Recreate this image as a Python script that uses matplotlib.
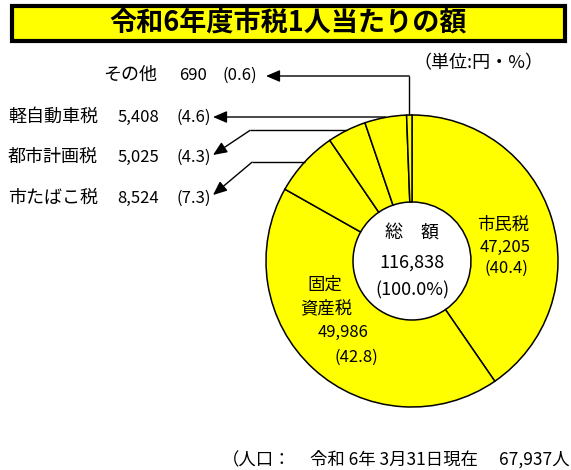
import matplotlib
matplotlib.use('Agg')
import matplotlib.pyplot as plt
import matplotlib.patches as mpatches
import numpy as np

plt.rcParams['font.family'] = ['Noto Sans CJK JP', 'DejaVu Sans']

# 市税の内訳（上から時計回り）
names = ['市民税', '固定資産税', '市たばこ税', '都市計画税', '軽自動車税', 'その他']
amounts = [47205, 49986, 8524, 5025, 5408, 690]
shares = [40.4, 42.8, 7.3, 4.3, 4.6, 0.6]
total = 116838
total_share = 100.0
population = 67937
title = '令和6年度市税1人当たりの額'
unit = '（単位:円・%）'
base_date = '令和 6年 3月31日現在'

fig = plt.figure(figsize=(5.71, 4.70), dpi=100)
ax = fig.add_axes([0, 0, 1, 1])

# donut (pixel-like coordinates, y down)
cx, cy, R, r = 412, 261, 146, 59
wedges, _ = ax.pie(amounts, center=(cx, cy), radius=R, startangle=-90, counterclock=True, frame=True,
                   colors=['#FFFF00'] * len(amounts),
                   wedgeprops=dict(width=R - r, edgecolor='black', linewidth=1.1))
ax.set_xlim(0, 571)
ax.set_ylim(470, 0)
ax.set_aspect('equal')
ax.axis('off')

# title bar
ax.add_patch(mpatches.Rectangle((11.5, 6), 553, 34.5, facecolor='#FFFF00', edgecolor='black', linewidth=3))
ax.text(288, 23.5, title, ha='center', va='center', fontsize=19.5, fontweight='bold')
ax.text(478, 63, unit, ha='center', va='center', fontsize=13)


def edge_point(w):
    t = np.deg2rad((w.theta1 + w.theta2) / 2)
    return cx + R * np.cos(t), cy + R * np.sin(t)


def arrow(pts):
    xs, ys = zip(*pts[:-1])
    ax.plot(xs, ys, color='black', lw=1.0, solid_capstyle='butt')
    ax.annotate('', xy=pts[-1], xytext=pts[-2],
                arrowprops=dict(arrowstyle='-|>,head_length=0.7,head_width=0.3', color='black',
                                lw=1.0, shrinkA=0, shrinkB=0, mutation_scale=12))


# small slices -> labels on the left
px, py = edge_point(wedges[5])
arrow([(px, py), (px, 76), (266, 76)])
px, py = edge_point(wedges[4])
arrow([(px, py), (px, 117), (213, 117)])
px, py = edge_point(wedges[3])
arrow([(px, py), (250, py), (213, 155)])
px, py = edge_point(wedges[2])
arrow([(px, py), (252, py), (213, 195)])

rows = [(5, 75, 157, 207, 223), (4, 117, 98, 159, 177), (3, 157, 98, 159, 177), (2, 198, 98, 159, 177)]
for i, y, xn, xv, xs in rows:
    ax.text(xn, y, names[i], ha='right', va='center', fontsize=13)
    ax.text(xv, y, f'{amounts[i]:,}', ha='right', va='center', fontsize=12)
    ax.text(xs, y, f'({shares[i]})', ha='left', va='center', fontsize=12)

# labels inside the ring
ax.text(503, 225, names[0], ha='center', va='center', fontsize=12.5)
ax.text(505, 247, f'{amounts[0]:,}', ha='center', va='center', fontsize=12)
ax.text(506, 268, f'({shares[0]})', ha='center', va='center', fontsize=12)
ax.text(325, 285, names[1][:2], ha='center', va='center', fontsize=12.5)
ax.text(326, 308, names[1][2:], ha='center', va='center', fontsize=12.5)
ax.text(343, 332, f'{amounts[1]:,}', ha='center', va='center', fontsize=12)
ax.text(356, 357, f'({shares[1]})', ha='center', va='center', fontsize=12)

# centre
ax.text(cx, 233, '総　額', ha='center', va='center', fontsize=13)
ax.text(cx, 263, f'{total:,}', ha='center', va='center', fontsize=13)
ax.text(cx, 290, f'({total_share}%)', ha='center', va='center', fontsize=13)

# footnote
ax.text(222, 460, '（人口：', ha='left', va='center', fontsize=12.5)
ax.text(310, 460, base_date, ha='left', va='center', fontsize=12.5)
ax.text(570, 460, f'{population:,}人', ha='right', va='center', fontsize=12.5)

fig.savefig('out.png', dpi=100)
